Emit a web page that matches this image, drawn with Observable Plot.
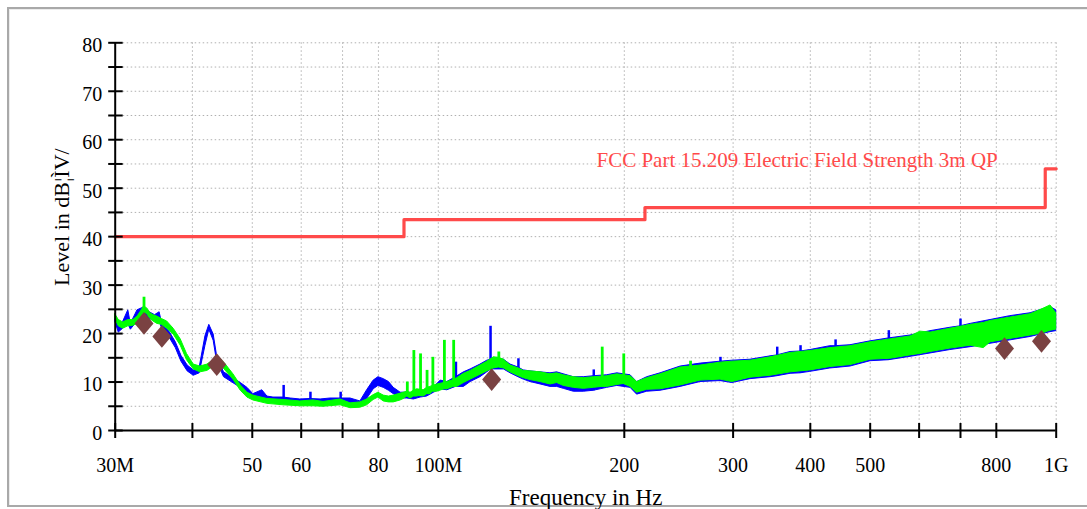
<!DOCTYPE html>
<html><head><meta charset="utf-8">
<script src="https://cdn.jsdelivr.net/npm/d3@7"></script>
<script src="https://cdn.jsdelivr.net/npm/@observablehq/plot@0.6"></script>
<style>
html,body{margin:0;padding:0;background:#fff;overflow:hidden;}
#wrap{position:relative;width:1087px;height:509px;overflow:hidden;}
#frame{position:absolute;left:7px;top:7px;width:1200px;height:496px;border:2px solid #a9a9a9;box-shadow:inset 1px 1px 0 #ececec;}
#chart{position:absolute;left:0;top:0;}
</style></head><body>
<div id="wrap"><div id="frame"></div><div id="chart"></div></div>
<script>
// ---- data (frequency in MHz, level in dBµV/m) ----
const greenFreq = [30.0,30.4,30.9,31.5,32.1,32.6,33.0,33.4,33.8,34.2,34.6,35.1,35.7,36.4,37.3,38.3,39.2,40.2,41.2,42.3,43.3,44.4,45.3,46.6,47.9,49.1,50.2,52.9,56.2,59.8,62.8,65.2,69.5,72.1,74.8,76.7,78.6,80.0,81.6,83.2,84.7,86.9,87.9,89.1,90.2,91.3,92.4,93.6,94.7,95.9,97.1,98.0,99.6,102.3,103.4,105.9,107.3,110.0,112.8,117.0,120.0,123.0,125.3,127.7,130.9,135.0,137.5,141.0,146.4,151.9,155.7,159.6,165.7,172.0,178.5,184.2,187.6,194.8,199.6,204.7,209.8,217.8,228.9,246.7,256.0,265.7,286.2,299.0,320.0,344.9,371.6,400.0,431.0,464.6,500.6,539.0,581.0,603.0,626.0,674.0,727.0,763.5,783.0,843.0,909.0,949.0,979.0,1000.0];
const greenLo = [23.0,21.5,21.0,21.5,21.6,22.0,23.0,24.5,24.0,23.0,22.5,22.0,21.8,21.0,19.8,17.5,14.5,12.6,12.0,12.3,13.2,13.6,12.3,10.5,8.2,6.8,6.2,5.5,5.2,5.0,5.0,4.9,5.2,4.6,4.7,5.2,6.3,6.8,6.0,5.8,5.8,6.2,6.5,7.0,6.6,7.0,7.0,7.2,7.0,7.5,7.5,8.0,8.0,8.5,8.5,9.0,9.0,9.8,10.5,11.5,12.2,12.8,13.0,12.8,12.0,11.2,10.8,10.4,10.0,9.5,9.8,9.2,8.8,8.6,8.8,9.0,9.0,9.4,9.6,9.0,7.8,8.4,8.5,9.3,9.8,10.3,10.5,10.0,10.9,11.3,12.0,12.4,13.1,13.5,14.6,14.8,15.5,15.8,16.2,16.9,17.5,17.0,18.2,18.9,19.6,20.0,20.6,20.8];
const greenHi = [24.0,22.8,22.3,22.8,22.8,23.5,24.5,25.6,25.2,24.2,23.8,23.5,23.0,22.5,21.0,18.8,15.8,13.6,13.2,13.6,14.5,14.8,13.6,11.6,9.3,7.8,7.2,6.5,6.3,6.0,6.2,5.9,6.4,5.6,5.8,6.4,7.3,7.8,7.2,7.0,7.2,7.6,7.8,8.0,7.8,8.2,8.5,8.4,8.3,8.8,9.0,9.2,9.5,9.8,10.0,10.4,10.8,11.7,12.3,13.4,14.2,15.1,15.0,14.6,13.4,12.8,12.3,12.2,12.0,11.6,11.8,11.4,11.0,10.8,11.0,11.1,11.2,11.6,11.4,11.2,10.0,10.8,11.6,13.0,13.2,13.4,14.0,14.2,14.4,15.1,16.0,16.4,17.0,17.4,18.2,18.8,19.4,20.4,20.2,21.0,21.8,22.2,22.6,23.3,24.0,25.0,25.8,24.2];
const greenSpikeFreq = [33.4, 89.1, 91.3, 93.6, 95.9, 98.0, 102.3, 105.9, 125.3, 184.2, 199.6, 256.0];
const greenSpikeBase = [24.0, 7.0, 7.0, 7.0, 7.5, 8.0, 8.5, 9.0, 13.0, 9.0, 9.6, 10.0];
const greenSpikeTop = [27.5, 10.0, 16.5, 15.8, 12.4, 15.1, 18.6, 18.6, 16.2, 17.2, 15.8, 14.3];

const blueFreq = [30.0,30.4,30.9,31.5,31.8,32.6,33.4,34.0,34.8,35.4,35.6,36.0,36.8,37.6,38.4,39.3,40.2,41.1,42.0,42.6,43.3,43.8,44.3,45.0,47.9,49.1,50.2,51.9,52.9,54.1,56.2,57.7,59.8,62.1,64.5,66.9,69.5,72.1,74.8,76.7,78.6,80.0,81.6,83.2,84.7,86.9,89.1,91.3,93.6,95.9,98.4,100.9,103.4,106.8,110.0,112.8,117.0,120.0,121.5,123.0,127.7,130.9,134.8,137.5,141.0,146.4,151.9,155.7,159.6,165.7,172.0,178.5,187.6,194.8,204.7,209.8,217.8,228.9,246.7,265.7,286.2,299.0,320.0,344.9,353.6,371.6,385.7,400.0,431.0,439.5,464.6,500.6,536.0,581.0,626.0,674.0,700.0,727.0,783.0,843.0,909.0,979.0,1000.0];
const blueLo = [22.5,20.2,21.0,22.0,20.8,22.5,23.5,23.0,22.8,23.0,21.5,20.5,19.0,17.0,14.2,12.2,11.3,11.8,17.5,20.8,18.5,14.6,13.0,11.0,8.8,7.8,6.5,6.5,6.0,5.8,6.0,5.5,5.5,5.6,5.5,5.6,5.8,5.4,5.0,6.5,8.5,9.2,8.8,8.2,7.5,6.6,6.6,6.4,6.8,7.0,7.8,8.5,8.3,9.0,9.0,10.0,11.0,12.0,12.5,12.6,12.6,11.8,11.0,10.5,10.0,9.5,9.0,9.0,8.6,8.0,8.0,8.2,8.8,9.2,8.8,7.4,8.0,8.2,9.0,10.0,10.2,9.8,10.6,11.0,11.2,11.7,11.8,12.1,12.8,12.9,13.2,14.3,14.5,15.2,15.9,16.6,16.9,17.2,17.9,18.6,19.3,20.3,20.5];
const blueHi = [23.8,21.5,22.4,24.8,22.0,24.8,25.4,24.5,23.8,24.4,23.0,21.8,20.2,18.2,15.4,13.4,12.4,13.0,19.5,21.8,19.8,15.8,14.0,12.0,9.8,8.8,7.5,8.3,7.0,6.8,6.8,6.6,6.4,6.5,6.4,6.6,6.6,6.6,6.0,8.3,10.3,11.0,10.6,10.0,8.8,7.8,7.8,7.5,8.0,8.3,8.9,10.3,10.0,11.0,12.0,12.6,13.6,14.4,14.6,15.0,14.6,13.6,13.0,12.4,12.2,12.0,11.8,12.0,11.6,11.0,11.0,11.2,11.4,11.8,11.4,10.0,11.0,11.8,13.2,13.8,14.2,14.4,14.6,15.3,15.5,16.2,16.3,16.6,17.4,17.4,17.6,18.4,19.0,19.6,20.5,21.2,21.5,22.0,22.8,23.6,24.2,25.5,24.8];
const blueSpikeFreq = [56.2, 62.1, 69.5, 106.8, 121.5, 134.8, 178.5, 286.2, 353.6, 385.7, 439.5, 536.0, 700.0];
const blueSpikeBase = [6.0, 5.6, 5.8, 9.0, 12.5, 11.0, 8.2, 10.2, 11.2, 11.8, 12.9, 14.5, 16.9];
const blueSpikeTop = [9.3, 7.9, 7.9, 14.1, 21.5, 14.8, 12.5, 15.1, 17.2, 17.5, 18.7, 20.6, 23.0];

const limitFreq = [30, 88, 216, 960, 1000];
const limitLevel = [40, 43.5, 46, 54, 54];
const limitName = "FCC Part 15.209 Electric Field Strength 3m QP";

const finalFreq = [33.4, 35.7, 43.8, 122.0, 824.8, 946.7];
const finalLevel = [22.1, 19.4, 13.6, 10.5, 16.9, 18.4];

const xTicks = [30,40,50,60,70,80,100,200,300,400,500,600,700,800,1000];
const xGrid = [40,50,60,70,80,100,200,300,400,500,600,700,800,1000];
const xLabelVals = [30,50,60,80,100,200,300,400,500,800,1000];
const xLabelText = ["30M","50","60","80","100M","200","300","400","500","800","1G"];
const yTicks = [0,5,10,15,20,25,30,35,40,45,50,55,60,65,70,75,80];
const yGrid = [5,10,15,20,25,30,35,40,45,50,55,60,65,70,75,80];
const yLabelVals = [0,10,20,30,40,50,60,70,80];
const xTitle = "Frequency in Hz";
const yTitle = "Level in dB¦ÌV/";

// ---- build tables ----
const rows = (f, lo, hi) => f.map((x, i) => ({f: x, lo: lo[i], hi: hi[i]}));
const blue = rows(blueFreq, blueLo, blueHi);
const green = rows(greenFreq, greenLo, greenHi);
const blueSpikes = rows(blueSpikeFreq, blueSpikeBase, blueSpikeTop);
const greenSpikes = rows(greenSpikeFreq, greenSpikeBase, greenSpikeTop);
const limit = limitFreq.map((f, i) => ({f, v: limitLevel[i]}));
const finals = finalFreq.map((f, i) => ({f, v: finalLevel[i]}));

const diamond = {draw(ctx) { const w = 9.5, h = 11.3; ctx.moveTo(0, -h); ctx.lineTo(w, 0); ctx.lineTo(0, h); ctx.lineTo(-w, 0); ctx.closePath(); }};
const vtick = {draw(ctx) { ctx.moveTo(0, -7.5); ctx.lineTo(0, 7.5); }};
const htick = {draw(ctx) { ctx.moveTo(-7, 0); ctx.lineTo(7.5, 0); }};

const RED = "#ff4a4a", BLUE = "#0000ff", GREEN = "#00ff00";
const plot = Plot.plot({
  width: 1087, height: 509,
  marginLeft: 114.7, marginRight: 31.3, marginTop: 42.3, marginBottom: 79,
  style: {background: "transparent", fontFamily: "'Liberation Serif','Times New Roman',serif", color: "#000", overflow: "visible"},
  x: {type: "log", domain: [30, 1000], axis: null},
  y: {domain: [0, 80], axis: null},
  marks: [
    Plot.ruleY(yGrid, {y: d => d, stroke: "#b0b0b0", strokeWidth: 1, strokeDasharray: "1.5,2.5"}),
    Plot.ruleX(xGrid, {x: d => d, stroke: "#b0b0b0", strokeWidth: 1, strokeDasharray: "1.5,2.5"}),
    Plot.line(limit, {x: "f", y: "v", curve: "step-after", stroke: RED, strokeWidth: 3.2}),
    Plot.text([limitName], {x: 180.3, y: 57.4, text: d => d, textAnchor: "start", lineAnchor: "top", fill: RED, fontSize: 21}),
    Plot.ruleX(blueSpikes, {x: "f", y1: "lo", y2: "hi", stroke: BLUE, strokeWidth: 2.5}),
    Plot.areaY(blue, {x: "f", y1: "lo", y2: "hi", fill: BLUE, stroke: BLUE, strokeWidth: 1, curve: "linear"}),
    Plot.areaY(green, {x: "f", y1: "lo", y2: "hi", fill: GREEN, stroke: GREEN, strokeWidth: 1, curve: "linear"}),
    Plot.ruleX(greenSpikes, {x: "f", y1: "lo", y2: "hi", stroke: GREEN, strokeWidth: 2.8}),
    Plot.dot(finals, {x: "f", y: "v", symbol: diamond, fill: "#7a4242", stroke: "none"}),
    Plot.ruleX([30], {x: d => d, stroke: "#000", strokeWidth: 2}),
    Plot.ruleY([0], {y: d => d, stroke: "#000", strokeWidth: 2}),
    Plot.dot(xTicks, {x: d => d, y: 0, symbol: vtick, stroke: "#000", strokeWidth: 2, fill: "none"}),
    Plot.dot(yTicks, {x: 30, y: d => d, symbol: htick, stroke: "#000", strokeWidth: 2, fill: "none"}),
    Plot.text(yLabelVals, {x: 30, y: d => d, text: d => String(d), textAnchor: "end", dx: -13, dy: 3, fontSize: 20, fill: "#000"}),
    Plot.text(xLabelVals, {x: d => d, y: 0, text: (d, i) => xLabelText[i], lineAnchor: "top", dy: 27, fontSize: 20, fill: "#000"}),
    Plot.text([xTitle], {frameAnchor: "bottom", text: d => d, lineAnchor: "top", dy: 58, fontSize: 23, fill: "#000"}),
    Plot.text([yTitle], {frameAnchor: "left", text: d => d, textAnchor: "middle", dx: -53.7, dy: -19.5, rotate: -90, fontSize: 22, fill: "#000"})
  ]
});
document.getElementById("chart").appendChild(plot);
</script>
</body></html>
